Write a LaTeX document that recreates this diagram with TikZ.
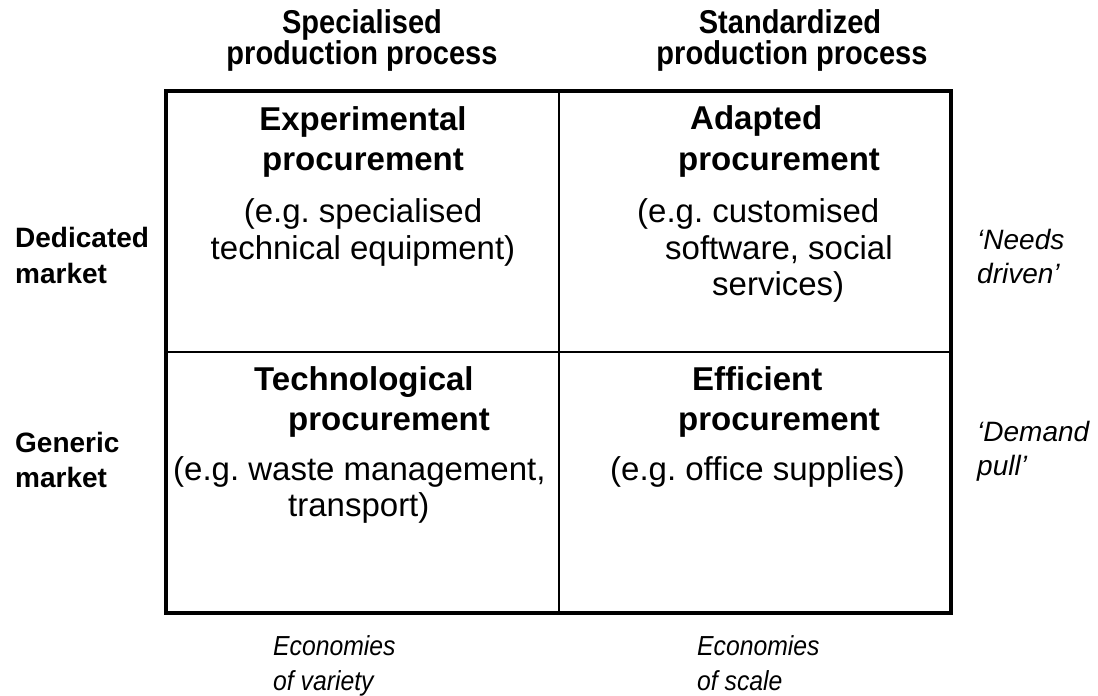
\documentclass[tikz,border=0pt]{standalone}
\usepackage{fontspec}
\setmainfont{Liberation Sans}
\newfontfamily\headfont{Liberation Sans}[FakeStretch=0.88]
\newfontfamily\narrowfont{Liberation Sans}[FakeStretch=0.9]
\frenchspacing
\begin{document}
\begin{tikzpicture}[x=1pt,y=-1pt,
  lbl/.style={inner sep=0pt, anchor=base west},
  clbl/.style={inner sep=0pt, anchor=base},
  qtitle/.style={font=\fontsize{33}{40}\selectfont\bfseries},
  qbody/.style={font=\fontsize{33}{40}\selectfont},
  head/.style={clbl, font=\headfont\fontsize{33}{38}\selectfont\bfseries},
  side/.style={lbl, font=\fontsize{28}{34}\selectfont\bfseries},
  note/.style={lbl, font=\fontsize{28}{34}\selectfont\itshape},
  bnote/.style={lbl, font=\narrowfont\fontsize{27.5}{34}\selectfont\itshape},
  outer/.style={line width=4pt},
  inner/.style={line width=1.5pt}]
\useasboundingbox (0,0) rectangle (1098,696);
\fill[white] (0,0) rectangle (1098,696);
% grid
\draw[outer] (166,91) rectangle (951,613);
\draw[inner] (559,91) -- (559,613);
\draw[inner] (166,352) -- (951,352);
% column headers
\node[head] (h1a) at (362,34) {Specialised};
\node[head] (h1b) at (362,64) {production process};
\node[head] (h2a) at (790,34) {Standardized};
\node[head] (h2b) at (792,64) {production process};
% row labels
\node[side] (r1a) at (15,247) {Dedicated};
\node[side] (r1b) at (15,283) {market};
\node[side] (r2a) at (15,452) {Generic};
\node[side] (r2b) at (15,487) {market};
% right notes
\node[note] (n1a) at (977,249) {‘Needs};
\node[note] (n1b) at (977,283) {driven’};
\node[note] (n2a) at (977,441) {‘Demand};
\node[note] (n2b) at (977,475) {pull’};
% bottom notes
\node[bnote] (b1a) at (273,655) {Economies};
\node[bnote] (b1b) at (273,690) {of variety};
\node[bnote] (b2a) at (697,655) {Economies};
\node[bnote] (b2b) at (697,690) {of scale};
% top-left quadrant
\node[clbl,qtitle] (tl1) at (363,130) {Experimental};
\node[clbl,qtitle] (tl2) at (363,170) {procurement};
\node[clbl,qbody] (tl3) at (363,222) {(e.g. specialised};
\node[clbl,qbody] (tl4) at (363,259) {technical equipment)};
% top-right quadrant
\node[lbl,qtitle] (tr1) at (690,129) {Adapted};
\node[lbl,qtitle] (tr2) at (678,170) {procurement};
\node[lbl,qbody] (tr3) at (637,222) {(e.g. customised};
\node[lbl,qbody] (tr4) at (665,259) {software, social};
\node[lbl,qbody] (tr5) at (712,295) {services)};
% bottom-left quadrant
\node[lbl,qtitle] (bl1) at (254,390) {Technological};
\node[lbl,qtitle] (bl2) at (288,430) {procurement};
\node[lbl,qbody] (bl3) at (173,480) {(e.g. waste management,};
\node[lbl,qbody] (bl4) at (288,516) {transport)};
% bottom-right quadrant
\node[lbl,qtitle] (br1) at (692,390) {Efficient};
\node[lbl,qtitle] (br2) at (678,430) {procurement};
\node[lbl,qbody] (br3) at (610,480) {(e.g. office supplies)};
\end{tikzpicture}
\end{document}
